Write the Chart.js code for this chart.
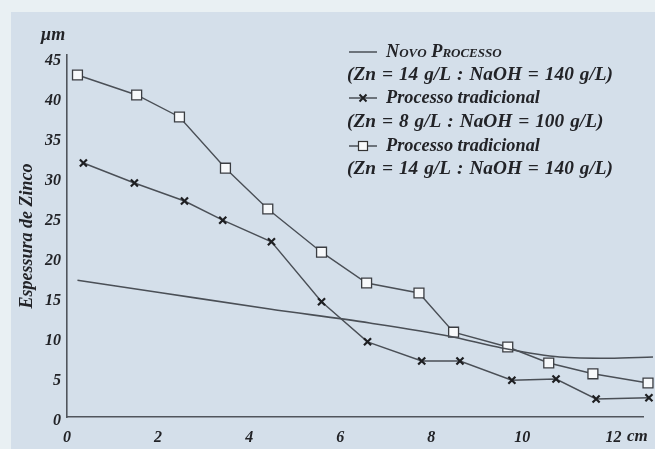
<!DOCTYPE html>
<html><head><meta charset="utf-8">
<script src="https://cdn.jsdelivr.net/npm/chart.js@4.4.1/dist/chart.umd.min.js"></script>
<style>html,body{margin:0;padding:0;background:#e9f0f3;overflow:hidden}#wrap{width:655px;height:449px;position:relative}</style>
</head><body><div id="wrap"><canvas id="c" width="655" height="449"></canvas></div>
<script>
// ---- data ----
const novoX   = [0.23, 2.1, 4.45, 6.65, 8.4, 9.57, 10.82, 11.9, 12.87];
const novoY   = [17.1, 15.5, 13.5, 11.75, 10.1, 8.6, 7.5, 7.35, 7.5];
const trad8X  = [0.36, 1.48, 2.58, 3.42, 4.49, 5.59, 6.6, 7.79, 8.63, 9.77, 10.74, 11.62, 12.78];
const trad8Y  = [31.75, 29.25, 27.0, 24.6, 21.9, 14.4, 9.4, 7.0, 7.0, 4.6, 4.75, 2.25, 2.4];
const trad14X = [0.23, 1.53, 2.47, 3.48, 4.41, 5.59, 6.58, 7.73, 8.49, 9.68, 10.58, 11.55, 12.76];
const trad14Y = [42.75, 40.25, 37.5, 31.1, 26.0, 20.6, 16.75, 15.5, 10.6, 8.75, 6.75, 5.4, 4.25];
const xTicks  = [0, 2, 4, 6, 8, 10, 12];
const yTicks  = [0, 5, 10, 15, 20, 25, 30, 35, 40, 45];
const yTitle  = 'Espessura de Zinco';
const yUnit   = 'µm';
const xUnit   = 'cm';
const legendItems = [
  {name: 'Novo Processo', detail: '(Zn = 14 g/L : NaOH = 140 g/L)', kind: 'line'},
  {name: 'Processo tradicional', detail: '(Zn = 8 g/L : NaOH = 100 g/L)', kind: 'cross'},
  {name: 'Processo tradicional', detail: '(Zn = 14 g/L : NaOH = 140 g/L)', kind: 'square'}
];

const FAM = "'Liberation Serif','DejaVu Serif',serif";
const INK = '#222327';
const LINE = '#4a4f56';
const pts = (xs, ys) => xs.map((x, i) => ({x, y: ys[i]}));

const bgPlugin = {
  id: 'bg',
  beforeDraw(chart) {
    const c = chart.ctx;
    c.save();
    c.fillStyle = '#e9f0f3';
    c.fillRect(0, 0, chart.width, chart.height);
    c.fillStyle = '#d4dfea';
    c.fillRect(11, 12, chart.width - 11, chart.height - 12);
    c.restore();
  }
};

function fitSize(c, text, target, base) {
  c.font = 'italic bold ' + base + 'px ' + FAM;
  const w = c.measureText(text).width;
  return Math.max(9, Math.min(20, base * target / w));
}

const textPlugin = {
  id: 'texts',
  afterDraw(chart) {
    const c = chart.ctx;
    c.save();
    c.fillStyle = INK;
    c.textBaseline = 'middle';
    // units
    c.font = 'italic bold 18px ' + FAM;
    c.textAlign = 'center';
    c.fillText(yUnit, 53, 35);
    c.font = 'italic bold 17px ' + FAM;
    c.textAlign = 'left';
    c.fillText(xUnit, 627, 437);

    // legend
    const fsName = fitSize(c, legendItems[1].name, 154, 14);
    const fontStr = 'italic bold ' + fsName.toFixed(1) + 'px ' + FAM;
    const detFont = 'italic bold ' + (fsName + 1).toFixed(1) + 'px ' + FAM;
    c.font = detFont;
    const natW = c.measureText(legendItems[0].detail).width;
    const nSp = legendItems[0].detail.split(' ').length - 1;
    const ws = Math.max(0, (266 - natW) / nSp);
    const rowY = [52, 75, 98, 122, 146, 169];
    legendItems.forEach((it, i) => {
      const y1 = rowY[i * 2], y2 = rowY[i * 2 + 1];
      c.strokeStyle = LINE;
      c.lineWidth = 1.5;
      c.beginPath();
      const x0 = 349, x1 = 377;
      c.moveTo(x0, y1); c.lineTo(x1, y1); c.stroke();
      const mx = (x0 + x1) / 2;
      if (it.kind === 'cross') {
        c.strokeStyle = '#1e1f22'; c.lineWidth = 2;
        c.beginPath();
        c.moveTo(mx - 3.5, y1 - 3.5); c.lineTo(mx + 3.5, y1 + 3.5);
        c.moveTo(mx + 3.5, y1 - 3.5); c.lineTo(mx - 3.5, y1 + 3.5);
        c.stroke();
      } else if (it.kind === 'square') {
        c.fillStyle = '#f7f9fb'; c.strokeStyle = '#333'; c.lineWidth = 1.2;
        c.fillRect(mx - 4.5, y1 - 4.5, 9, 9);
        c.strokeRect(mx - 4.5, y1 - 4.5, 9, 9);
      }
      c.fillStyle = INK;
      c.textAlign = 'left';
      c.font = fontStr;
      if (i === 0) {
        try { c.fontVariantCaps = 'small-caps'; } catch (e) {}
      }
      c.fillText(it.name, 386, y1);
      try { c.fontVariantCaps = 'normal'; } catch (e) {}
      c.font = detFont;
      try { c.wordSpacing = ws.toFixed(2) + 'px'; } catch (e) {}
      c.fillText(it.detail, 347, y2);
      try { c.wordSpacing = '0px'; } catch (e) {}
    });
    c.restore();
  }
};

const tickFont = {family: FAM, size: 16, style: 'italic', weight: 'bold'};

new Chart(document.getElementById('c'), {
  type: 'scatter',
  data: {
    datasets: [
      {
        label: legendItems[0].name,
        data: pts(novoX, novoY),
        showLine: true,
        borderColor: LINE,
        borderWidth: 1.6,
        pointRadius: 0,
        cubicInterpolationMode: 'monotone',
        clip: false
      },
      {
        label: legendItems[1].name + ' ' + legendItems[1].detail,
        data: pts(trad8X, trad8Y),
        showLine: true,
        borderColor: LINE,
        borderWidth: 1.4,
        pointStyle: 'crossRot',
        pointRadius: 5,
        pointBorderWidth: 2.2,
        pointBorderColor: '#1e1f22',
        clip: false
      },
      {
        label: legendItems[2].name + ' ' + legendItems[2].detail,
        data: pts(trad14X, trad14Y),
        showLine: true,
        borderColor: LINE,
        borderWidth: 1.4,
        pointStyle: 'rect',
        pointRadius: 7,
        pointBackgroundColor: '#f7f9fb',
        pointBorderColor: '#3a3d42',
        pointBorderWidth: 1.3,
        clip: false
      }
    ]
  },
  options: {
    responsive: false,
    animation: false,
    devicePixelRatio: 1,
    layout: {padding: {top: 55, right: 12, left: 0, bottom: 0}},
    plugins: {legend: {display: false}, tooltip: {enabled: false}},
    scales: {
      x: {
        type: 'linear', min: 0, max: 12.65,
        afterBuildTicks: s => { s.ticks = xTicks.map(v => ({value: v})); },
        afterFit: s => { s.height = 32; },
        grid: {display: false, drawTicks: false},
        border: {display: true, color: '#50555c', width: 1.6},
        ticks: {font: tickFont, color: INK, padding: 11, maxRotation: 0, autoSkip: false,
                callback: v => String(v)}
      },
      y: {
        min: 0, max: 45.25,
        afterBuildTicks: s => { s.ticks = yTicks.map(v => ({value: v})); },
        afterFit: s => { s.width = 67; },
        grid: {display: false, drawTicks: false},
        border: {display: true, color: '#50555c', width: 1.6},
        ticks: {font: tickFont, color: INK, padding: 6, labelOffset: 4, autoSkip: false,
                callback: v => String(v)},
        title: {display: true, text: yTitle, color: INK,
                font: {family: FAM, size: 18, style: 'italic', weight: 'bold'},
                padding: {top: 17, bottom: 0}}
      }
    }
  },
  plugins: [bgPlugin, textPlugin]
});
</script>
</body></html>
